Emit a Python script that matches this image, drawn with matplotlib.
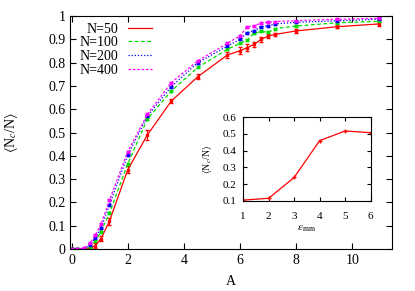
import numpy as np
import matplotlib
matplotlib.use("Agg")
import matplotlib.pyplot as plt
from matplotlib.lines import Line2D

plt.rcParams['font.family'] = ['Liberation Serif', 'DejaVu Serif']
plt.rcParams['mathtext.fontset'] = 'stix'

# main panel data
A = [0, 0.2, 0.45, 0.65, 0.85, 1.05, 1.35, 2.0, 2.7, 3.55, 4.5,
     5.55, 6.0, 6.25, 6.5, 6.75, 7.0, 7.25, 8.0, 9.45, 10.95]
n50 = [0, 0, 0, 0.003, 0.015, 0.045, 0.12, 0.34, 0.49, 0.635, 0.74,
       0.833, 0.851, 0.864, 0.878, 0.90, 0.914, 0.921, 0.936, 0.954, 0.966]
n100 = [0, 0, 0, 0.01, 0.035, 0.075, 0.155, 0.365, 0.558, 0.678, 0.78,
        0.857, 0.883, 0.897, 0.926, 0.934, 0.930, 0.946, 0.957, 0.971, 0.977]
n200 = [0, 0, 0, 0.018, 0.048, 0.09, 0.19, 0.403, 0.57, 0.697, 0.80,
        0.871, 0.90, 0.928, 0.937, 0.954, 0.958, 0.966, 0.973, 0.979, 0.986]
n400 = [0, 0, 0.005, 0.025, 0.06, 0.107, 0.21, 0.418, 0.578, 0.714, 0.808,
        0.883, 0.915, 0.954, 0.957, 0.971, 0.973, 0.976, 0.98, 0.986, 0.99]
err50 = [0, 0, 0, 0.004, 0.01, 0.01, 0.015, 0.015, 0.02, 0.008, 0.01,
         0.012, 0.015, 0.015, 0.012, 0.012, 0.01, 0.006, 0.008, 0.007, 0.007]
err_small = [0.004] * len(A)

# inset data
eps = [1, 2, 3, 4, 5, 6]
inset_vals = [0.104, 0.115, 0.24, 0.46, 0.518, 0.508]

colors = ['#ff0000', '#00dd00', '#0000ff', '#ff00ff']
styles = ['-', (0, (3, 2)), (0, (1, 1.5)), (0, (2, 1.5))]
labels = ['N=50', 'N=100', 'N=200', 'N=400']
series = [n50, n100, n200, n400]
errs = [err50, err_small, err_small, err_small]

fig = plt.figure(figsize=(4.15, 2.91), dpi=100)
ax = fig.add_axes([0.169, 0.144, 0.775, 0.801])

for y, e, c, s in zip(series, errs, colors, styles):
    ax.errorbar(A, y, yerr=e, color=c, ls=s, lw=0.9, marker='s', ms=2,
                capsize=1.5, elinewidth=0.8)

ax.set_xlim(-0.05, 11.4)
ax.set_ylim(0, 1)
ax.set_xticks([0, 2, 4, 6, 8, 10])
ax.set_yticks(np.arange(0, 1.01, 0.1))
ax.set_yticklabels(['0', '0.1', '0.2', '0.3', '0.4', '0.5', '0.6', '0.7', '0.8', '0.9', '1'])
ax.tick_params(direction='in', top=True, right=True, labelsize=10, length=4, width=0.8)
ax.set_xlabel('A', fontsize=10, labelpad=6)
ax.set_ylabel(r'$\langle$N$_c$/N$\rangle$', fontsize=10, labelpad=20)

handles = [Line2D([], [], color=c, ls=s, lw=0.9) for c, s in zip(colors, styles)]
ax.legend(handles, labels, loc='upper right', bbox_to_anchor=(0.255, 0.972), frameon=False,
          markerfirst=False, fontsize=10, handlelength=1.75, labelspacing=0.05,
          handletextpad=0.7, borderaxespad=0, borderpad=0)

ins = fig.add_axes([0.586, 0.310, 0.307, 0.287])
ins.plot(eps, inset_vals, color='#ff0000', lw=0.9, marker='+', ms=3)
ins.set_xlim(1, 6)
ins.set_ylim(0.1, 0.6)
ins.set_xticks([1, 2, 3, 4, 5, 6])
ins.set_yticks([0.1, 0.2, 0.3, 0.4, 0.5, 0.6])
ins.tick_params(direction='in', top=True, right=True, labelsize=8, length=3, width=0.8)
ins.tick_params(axis='x', pad=8)
ins.tick_params(axis='y', pad=5)
ins.set_xlabel(r'$\varepsilon$$_{\rm mm}$', fontsize=8, labelpad=2)
ins.set_ylabel(r'$\langle$N$_c$/N$\rangle$', fontsize=7, labelpad=6)

fig.savefig('out.png', dpi=100)
